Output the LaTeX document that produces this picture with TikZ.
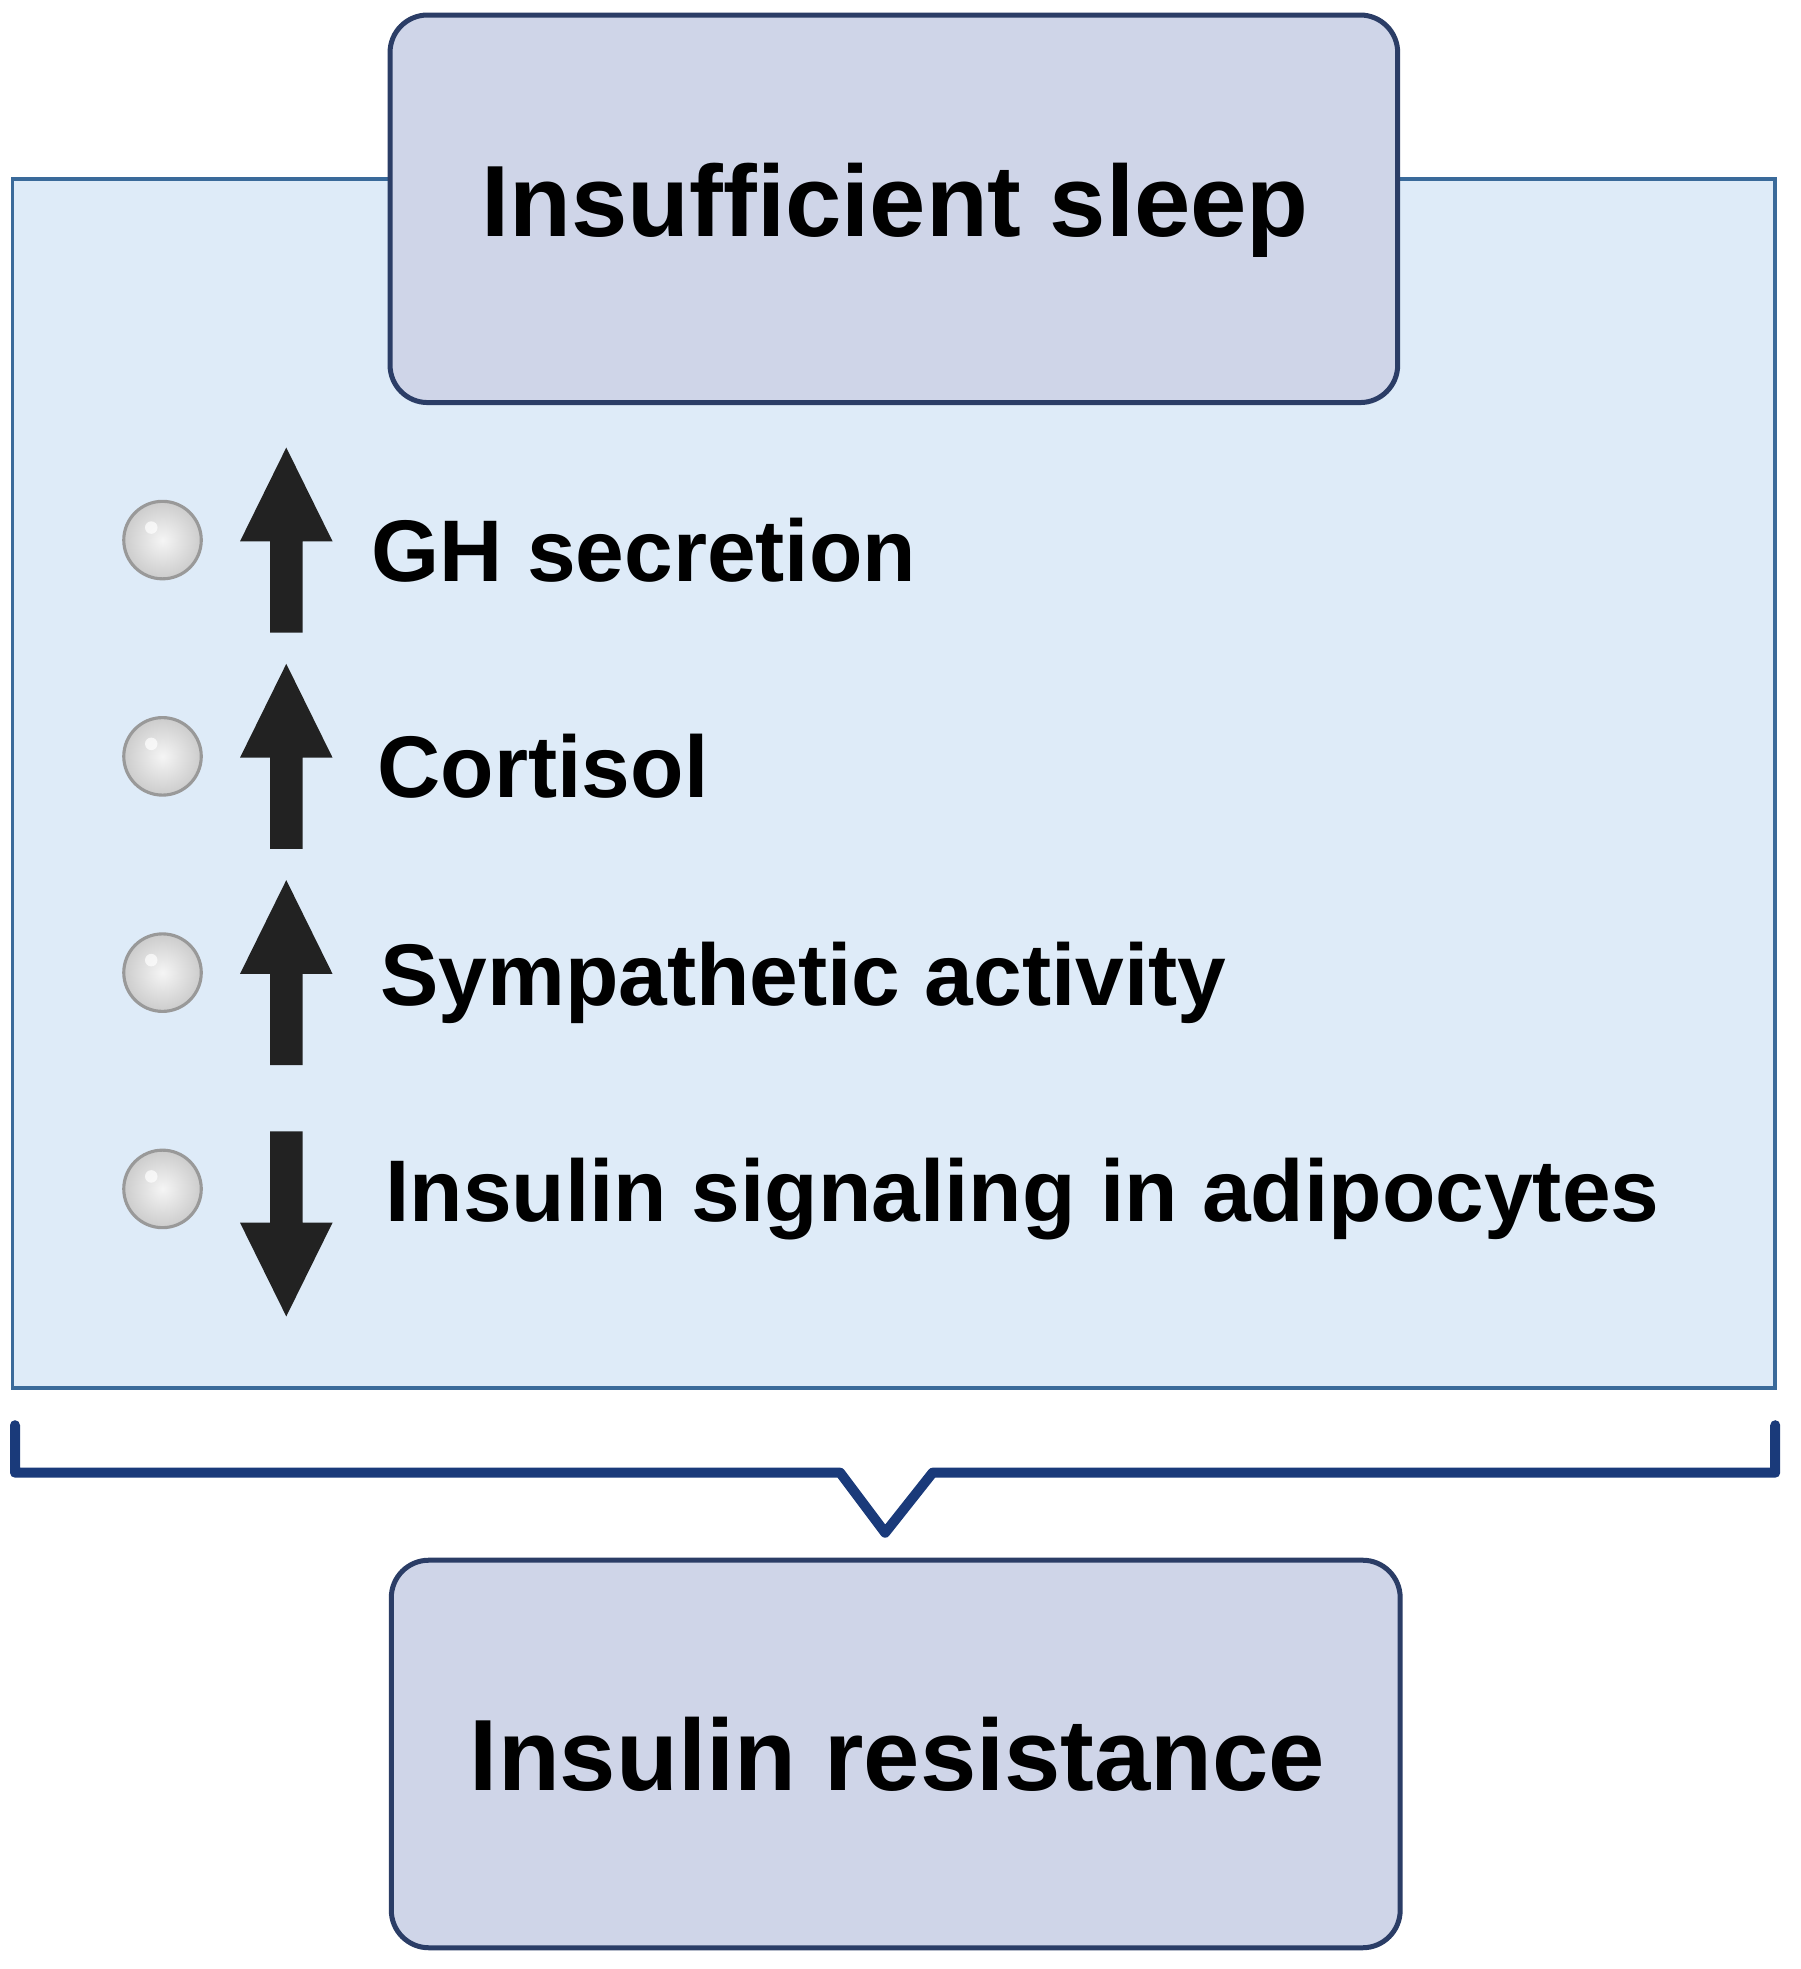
\documentclass[tikz,border=0pt]{standalone}
\usepackage{fontspec}
\setmainfont{Liberation Sans}
\begin{document}
\begin{tikzpicture}[x=1pt,y=-1pt,
  hbox/.style={draw=boxline,line width=4pt,fill=boxfill,rounded corners=30pt},
  lbl/.style={anchor=west,font=\bfseries\fontsize{70}{80}\selectfont,inner sep=0pt},
  bul/.style={circle,minimum size=62pt,inner sep=0pt,draw=gray!80,line width=2.5pt,inner color=gray!8,outer color=gray!40},
  ttl/.style={font=\bfseries\fontsize{81}{96}\selectfont}]
\definecolor{boxline}{HTML}{2B3D66}
\definecolor{boxfill}{HTML}{CFD5E8}
\definecolor{panelfill}{HTML}{DEEBF8}
\definecolor{panelline}{HTML}{3A6A9A}
\definecolor{brk}{HTML}{1A3A7A}
\definecolor{arr}{HTML}{222222}
\useasboundingbox (0,0) rectangle (1440,1575);
\fill[white] (0,0) rectangle (1440,1575);
\draw[panelline,line width=3pt,fill=panelfill] (10,143) rectangle (1420,1110);
\draw[hbox] (312,12) rectangle (1118,322);
\node[ttl] (top) at (716,168) {Insufficient sleep};
\draw[hbox] (313,1248) rectangle (1120,1558);
\node[ttl] (bot) at (718,1403) {Insulin resistance};
\draw[brk,line width=8pt,line join=round,line cap=round] (12,1140) -- (12,1178) -- (672,1178) -- (708,1226) -- (746,1178) -- (1420,1178) -- (1420,1140);
\foreach \y/\t/\n/\x in {432/GH secretion/a/297,605/Cortisol/b/302,778/Sympathetic activity/c/304,951/Insulin signaling in adipocytes/d/308}{
  \node[bul] (b\n) at (130,\y) {};
  \fill[white,opacity=0.7] (121,\y-10) circle (5pt);
  \node[lbl] (t\n) at (\x,\y+8) {\t};
}
\foreach \y in {358,531,704}{
  \fill[arr] (229,\y) -- (266,\y+75) -- (242,\y+75) -- (242,\y+148) -- (216,\y+148) -- (216,\y+75) -- (192,\y+75) -- cycle;
}
\fill[arr] (229,1053) -- (266,978) -- (242,978) -- (242,905) -- (216,905) -- (216,978) -- (192,978) -- cycle;
\end{tikzpicture}
\end{document}
